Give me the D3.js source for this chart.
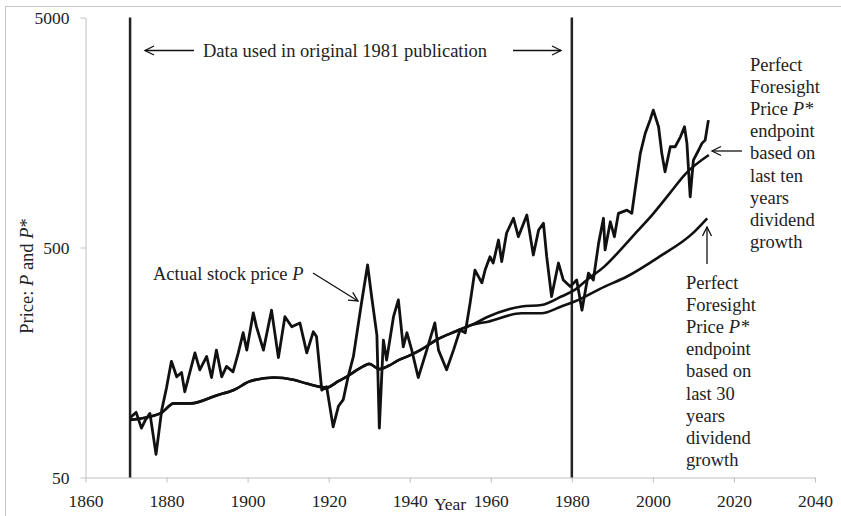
<!DOCTYPE html>
<html>
<head>
<meta charset="utf-8">
<script src="https://cdn.jsdelivr.net/npm/d3@7"></script>
<style>
  body { margin: 0; background: #fff; }
  text { font-family: "Liberation Serif", "Times New Roman", serif; font-size: 18.5px; fill: #222; }
</style>
</head>
<body>
<div id="chart"></div>
<script>
// tick labels
var xTicks = [1860, 1880, 1900, 1920, 1940, 1960, 1980, 2000, 2020, 2040];
var yTicks = [50, 500, 5000];

var priceYears = [1871.0, 1872.5, 1873.8, 1874.8, 1875.9, 1877.4, 1878.8, 1880.0, 1881.2, 1882.5,
  1883.7, 1884.5, 1887.0, 1888.2, 1889.9, 1891.1, 1892.3, 1893.6, 1894.8, 1896.4,
  1897.7, 1898.9, 1899.8, 1901.4, 1902.2, 1903.9, 1905.9, 1907.6, 1909.2, 1910.9,
  1912.9, 1914.6, 1916.2, 1917.0, 1918.3, 1919.5, 1921.1, 1922.4, 1923.6, 1924.8,
  1926.1, 1928.1, 1929.6, 1930.6, 1931.9, 1932.5, 1933.5, 1934.3, 1936.0, 1937.2,
  1938.4, 1939.3, 1940.5, 1942.1, 1944.2, 1946.2, 1947.1, 1949.1, 1950.8, 1952.4,
  1953.7, 1954.9, 1956.1, 1957.8, 1958.6, 1959.8, 1960.6, 1961.9, 1962.7, 1963.9,
  1965.6, 1966.8, 1968.9, 1970.5, 1971.8, 1973.0, 1973.8, 1975.0, 1976.7, 1977.9,
  1979.6, 1981.2, 1982.5, 1984.1, 1985.3, 1986.6, 1987.8, 1988.2, 1989.5, 1990.5,
  1991.5, 1993.6, 1994.8, 1995.6, 1996.9, 1998.1, 1999.3, 2000.1, 2001.4, 2002.2,
  2003.0, 2004.3, 2005.5, 2006.8, 2007.8, 2008.4, 2009.2, 2010.0, 2011.3, 2012.1,
  2012.9, 2013.7];
var priceValues = [91, 96, 82, 89, 95, 63, 98, 123, 160, 137,
  143, 118, 174, 147, 168, 136, 179, 137, 152, 144,
  174, 213, 179, 260, 226, 179, 267, 166, 250, 226,
  235, 174, 215, 205, 120, 124, 83, 102, 109, 137,
  168, 287, 420, 306, 208, 82, 198, 162, 250, 296,
  185, 213, 179, 136, 179, 235, 179, 147, 179, 219,
  213, 287, 399, 351, 399, 456, 428, 539, 434, 578,
  670, 557, 692, 464, 596, 637, 456, 306, 428, 361,
  338, 361, 267, 387, 361, 521, 670, 488, 647, 557,
  704, 727, 704, 889, 1283, 1566, 1790, 1978, 1675, 1283,
  1067, 1371, 1371, 1514, 1675, 1418, 831, 1200, 1327, 1418,
  1465, 1790];

// perfect foresight price P*, common part
var pstarYears = [1871, 1878.5, 1881.8, 1886, 1892.5, 1896.6, 1900.6, 1906.4, 1911.3, 1914.6,
  1919.5, 1922.5, 1924.4, 1928.5, 1930, 1932.5, 1934.8, 1937, 1940.4, 1942.6,
  1947, 1951.1, 1955.2];
var pstarValues = [89, 95, 105, 105, 114, 120, 131, 136, 133, 128,
  123, 131.5, 137, 152, 156, 148, 153, 161, 171, 179,
  200, 215, 230];

// P* endpoint from last ten years dividend growth
var tenYears = [1959.3, 1967.6, 1972.5, 1977.4, 1980.7, 1984, 1988, 1992, 1996, 2000, 2004, 2008, 2013.8];
var tenValues = [250, 277, 281, 306, 327, 365, 413, 488, 584, 699, 853, 1043, 1262];

// P* endpoint from last 30 years dividend growth
var thirtyYears = [1959.3, 1967.6, 1972.5, 1977.4, 1980.7, 1988.1, 1993.5, 2001.6, 2009.8, 2013.4];
var thirtyValues = [238, 259, 259, 277, 291, 338, 373, 456, 576, 670];

var svgWidth = 841;
var svgHeight = 516;
var margin = {top: 17.5, right: 26, bottom: 38.5, left: 85.5};
var width = svgWidth - margin.left - margin.right;
var height = svgHeight - margin.top - margin.bottom;

var svg = d3.select("#chart").append("svg")
    .attr("width", svgWidth)
    .attr("height", svgHeight);

// light frame of the chart area
svg.append("rect")
    .attr("x", 5.5).attr("y", 6.5)
    .attr("width", 900).attr("height", 600)
    .attr("fill", "none")
    .attr("stroke", "#c8c8c8");

var defs = svg.append("defs");
defs.append("marker")
    .attr("id", "head")
    .attr("viewBox", "-10 -6 12 12")
    .attr("refX", 0).attr("refY", 0)
    .attr("markerWidth", 12).attr("markerHeight", 12)
    .attr("markerUnits", "userSpaceOnUse")
    .attr("orient", "auto")
    .append("path")
    .attr("d", "M-9,-4.5 L0,0 L-9,4.5")
    .attr("fill", "none")
    .attr("stroke", "#111")
    .attr("stroke-width", 1.3);

var chart = svg.append("g")
    .attr("transform", "translate(" + margin.left + "," + margin.top + ")");

var x = d3.scaleLinear().domain([1860, 2040]).range([0, width]);
var y = d3.scaleLog().domain([50, 5000]).range([height, 0]);

var bottomAxis = d3.axisBottom(x).tickValues(xTicks).tickFormat(d3.format("d"))
    .tickSize(5).tickSizeOuter(0).tickPadding(12.3);
var leftAxis = d3.axisLeft(y).tickValues(yTicks).tickFormat(d3.format("d"))
    .tickSize(5).tickSizeOuter(0).tickPadding(11);

var gx = chart.append("g")
    .attr("transform", "translate(0," + height + ")")
    .call(bottomAxis);
var gy = chart.append("g").call(leftAxis);
[gx, gy].forEach(function (g) {
  g.attr("font-family", "Liberation Serif").attr("font-size", 17.5);
  g.selectAll("path, line").attr("stroke", "#bfbfbf");
  g.selectAll("text")
      .style("font-family", "'Liberation Serif', serif")
      .style("font-size", "17.5px")
      .attr("fill", "#222");
});

// vertical lines marking the original 1981 data span
chart.selectAll(".span")
    .data([1871, 1980])
    .enter()
    .append("line")
    .attr("x1", function (d) { return x(d); })
    .attr("x2", function (d) { return x(d); })
    .attr("y1", 0)
    .attr("y2", height)
    .attr("stroke", "#222")
    .attr("stroke-width", 2.5);

var line = d3.line()
    .x(function (d) { return x(d[0]); })
    .y(function (d) { return y(d[1]); });
var smooth = d3.line()
    .curve(d3.curveMonotoneX)
    .x(function (d) { return x(d[0]); })
    .y(function (d) { return y(d[1]); });

var common = pstarYears.map(function (d, i) { return [d, pstarValues[i]]; });
var tenLine = common.concat(tenYears.map(function (d, i) { return [d, tenValues[i]]; }));
var thirtyLine = common.concat(thirtyYears.map(function (d, i) { return [d, thirtyValues[i]]; }));
var priceLine = priceYears.map(function (d, i) { return [d, priceValues[i]]; });

[thirtyLine, tenLine].forEach(function (pts) {
  chart.append("path")
      .attr("d", smooth(pts))
      .attr("fill", "none")
      .attr("stroke", "#111")
      .attr("stroke-width", 2.6)
      .attr("stroke-linejoin", "round");
});

chart.append("path")
    .attr("d", line(priceLine))
    .attr("fill", "none")
    .attr("stroke", "#111")
    .attr("stroke-width", 2.8)
    .attr("stroke-linejoin", "round");

// axis titles
svg.append("text")
    .attr("transform", "translate(33,276) rotate(-90)")
    .attr("text-anchor", "middle")
    .call(function (t) {
      t.append("tspan").text("Price: ");
      t.append("tspan").style("font-style", "italic").text("P");
      t.append("tspan").text(" and ");
      t.append("tspan").style("font-style", "italic").text("P");
      t.append("tspan").text("*");
    });
svg.append("text")
    .attr("x", 450).attr("y", 510)
    .attr("text-anchor", "middle")
    .style("font-size", "17.5px")
    .text("Year");

// annotations
function arrow(x1, y1, x2, y2) {
  svg.append("line")
      .attr("x1", x1).attr("y1", y1)
      .attr("x2", x2).attr("y2", y2)
      .attr("stroke", "#111")
      .attr("stroke-width", 1.3)
      .attr("marker-end", "url(#head)");
}

svg.append("text")
    .attr("x", 203).attr("y", 57)
    .text("Data used in original 1981 publication");
arrow(194, 50.5, 145, 50.5);
arrow(513, 50.5, 561, 50.5);

svg.append("text")
    .attr("x", 153).attr("y", 280)
    .call(function (t) {
      t.append("tspan").text("Actual stock price ");
      t.append("tspan").style("font-style", "italic").text("P");
    });
arrow(313, 273, 358, 301);

var tenLabel = ["Perfect", "Foresight", "Price |P*", "endpoint", "based on", "last ten", "years", "dividend", "growth"];
var thirtyLabel = ["Perfect", "Foresight", "Price |P*", "endpoint", "based on", "last 30", "years", "dividend", "growth"];

function block(lines, x0, y0) {
  lines.forEach(function (s, i) {
    var t = svg.append("text").attr("x", x0).attr("y", y0 + i * 22.1);
    var parts = s.split("|");
    t.append("tspan").text(parts[0]);
    if (parts[1]) t.append("tspan").style("font-style", "italic").text(parts[1]);
  });
}
block(tenLabel, 750, 71);
block(thirtyLabel, 686, 289);
arrow(742, 151, 712, 151);
arrow(707, 264, 707, 227);
</script>
</body>
</html>
